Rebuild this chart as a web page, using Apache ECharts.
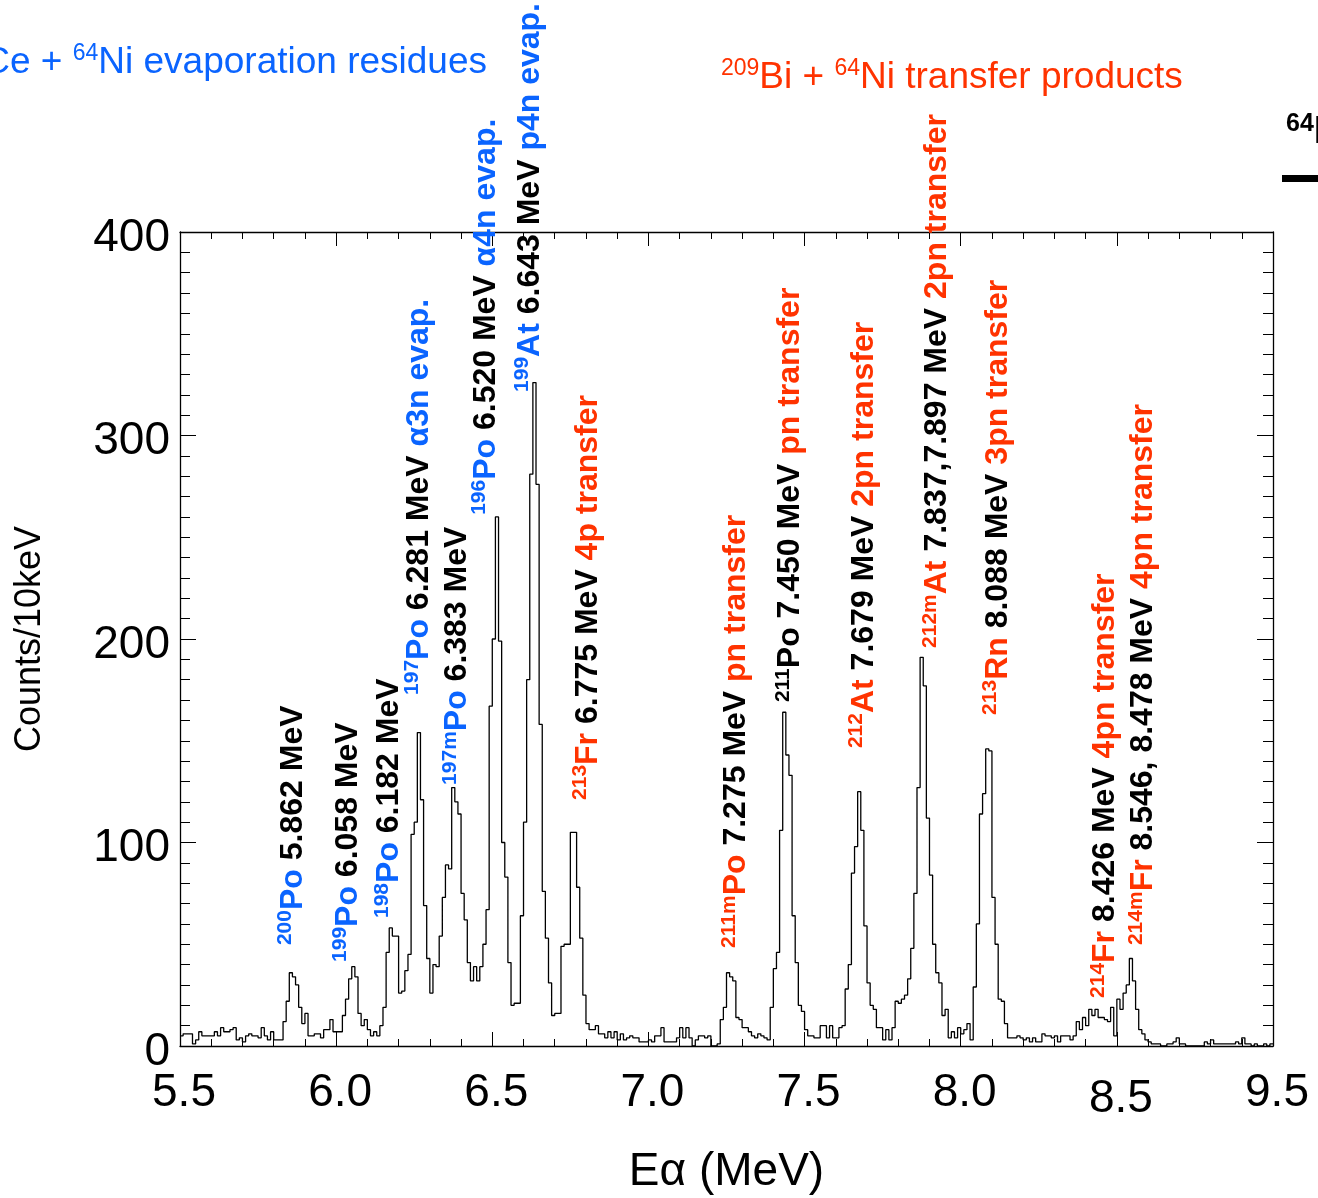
<!DOCTYPE html>
<html>
<head>
<meta charset="utf-8">
<title>Alpha spectrum</title>
<script src="https://cdn.jsdelivr.net/npm/echarts@6/dist/echarts.min.js"></script>
<style>
  html, body { margin: 0; padding: 0; background: #fff; }
  #chart { width: 1318px; height: 1198px; }
</style>
</head>
<body>
<div id="chart"></div>
<script>
// ---- spectrum: 10 keV bins starting at 5.5 MeV ----
const binStart = 5.5;   // MeV, lower edge of first bin
const binWidth = 0.01;  // MeV (10 keV)
const counts = [
  5, 6, 6, 6, 1, 3, 7, 5, 5, 5,
  5, 7, 5, 9, 7, 7, 8, 9, 3, 4,
  2, 5, 6, 5, 5, 4, 9, 5, 3, 7,
  3, 3, 3, 12, 22, 36, 34, 30, 19, 11,
  16, 5, 5, 6, 6, 4, 8, 8, 13, 7,
  7, 7, 15, 23, 33, 39, 34, 16, 10, 13,
  8, 5, 7, 5, 10, 19, 46, 58, 54, 54,
  26, 27, 37, 45, 104, 110, 154, 121, 69, 43,
  26, 40, 39, 54, 73, 89, 87, 127, 120, 114,
  75, 62, 41, 32, 39, 32, 39, 50, 67, 167,
  200, 260, 199, 100, 83, 41, 20, 21, 21, 64,
  110, 180, 281, 326, 276, 158, 76, 53, 31, 15,
  16, 16, 49, 50, 50, 105, 105, 78, 53, 25,
  11, 8, 8, 10, 6, 6, 4, 7, 4, 7,
  3, 6, 3, 4, 5, 4, 4, 2, 2, 2,
  3, 2, 5, 5, 9, 2, 2, 2, 2, 4,
  9, 4, 9, 4, 0, 3, 5, 5, 4, 5,
  0, 0, 1, 13, 19, 36, 34, 32, 14, 13,
  9, 9, 7, 5, 4, 6, 5, 4, 3, 19,
  38, 46, 106, 164, 143, 133, 64, 41, 20, 17,
  8, 5, 5, 4, 4, 10, 10, 4, 10, 4,
  4, 9, 10, 28, 40, 85, 98, 125, 106, 59,
  31, 20, 18, 9, 9, 3, 8, 3, 9, 22,
  21, 23, 25, 33, 48, 75, 127, 191, 177, 112,
  84, 50, 36, 31, 15, 18, 4, 7, 4, 9,
  6, 8, 11, 3, 29, 60, 114, 124, 146, 145,
  73, 50, 23, 22, 11, 4, 4, 4, 5, 4,
  3, 4, 2, 4, 2, 2, 6, 5, 5, 4,
  5, 2, 5, 5, 5, 3, 5, 12, 8, 14,
  10, 18, 15, 18, 14, 14, 13, 12, 19, 5,
  23, 18, 26, 30, 43, 32, 18, 8, 6, 3,
  2, 1, 1, 1, 0, 0, 1, 1, 2, 4,
  1, 1, 0, 0, 0, 0, 0, 0, 2, 1,
  3, 1, 1, 1, 1, 1, 1, 1, 2, 1,
  4, 1, 1, 0, 1, 0, 0, 1, 0, 1
];

// ---- axes ----
const xTickLabels = ['5.5', '6.0', '6.5', '7.0', '7.5', '8.0', '8.5', '9.5'];
const xMin = 5.5, xMax = 9.0, xStep = 0.5;
const yMin = 0, yMax = 400, yStep = 100;

// ---- line identifications ----
const lineMass   = ['200', '199', '198', '197', '197m', '196', '199', '213', '211m', '211', '212', '212m', '213', '214', '214m'];
const lineElem   = ['Po', 'Po', 'Po', 'Po', 'Po', 'Po', 'At', 'Fr', 'Po', 'Po', 'At', 'At', 'Rn', 'Fr', 'Fr'];
const lineEnergy = ['5.862', '6.058', '6.182', '6.281', '6.383', '6.520', '6.643', '6.775', '7.275', '7.450', '7.679', '7.837,7.897', '8.088', '8.426', '8.546, 8.478'];
const lineNote   = ['', '', '', 'α3n evap.', '', 'α4n evap.', 'p4n evap.', '4p transfer', 'pn transfer', 'pn transfer', '2pn transfer', '2pn transfer', '3pn transfer', '4pn transfer', '4pn transfer'];
// isotope group: E = evaporation residue, T = transfer product, K = plain
const lineGroup  = ['E', 'E', 'E', 'E', 'E', 'E', 'E', 'T', 'T', 'K', 'T', 'T', 'T', 'T', 'T'];

// where each vertical label starts, in data units (MeV, counts)
const labelAnchorE = [5.861, 6.037, 6.171, 6.267, 6.388, 6.481, 6.620, 6.806, 7.282, 7.454, 7.690, 7.925, 8.120, 8.464, 8.585];
const labelAnchorC = [49.6, 41.3, 62.9, 172.5, 128.3, 261, 321.4, 120.9, 48.2, 169, 146.4, 195.6, 162.7, 23.6, 49.6];

// ---- styling ----
const FONT = '"Liberation Sans", Arial, Helvetica, sans-serif';
const BLUE = '#0a64ff';
const RED = '#ff3300';
const BLACK = '#000000';

const histData = counts.map((c, i) => [binStart + i * binWidth, c]);
histData.push([binStart + counts.length * binWidth, counts[counts.length - 1]]);

const chart = echarts.init(document.getElementById('chart'), null, { renderer: 'canvas' });

function frameAxis(extra) {
  return Object.assign({
    type: 'value',
    axisLine: { show: true, onZero: false, lineStyle: { color: BLACK, width: 1.3 } },
    splitLine: { show: false },
    minorSplitLine: { show: false }
  }, extra);
}
const xTick = { show: true, inside: true, length: 14, lineStyle: { color: BLACK, width: 1 } };
const xMinor = { show: true, splitNumber: 5, length: 7, lineStyle: { color: BLACK, width: 1 } };
const yTick = { show: true, inside: true, length: 16, lineStyle: { color: BLACK, width: 1 } };
const yMinor = { show: true, splitNumber: 10, length: 10, lineStyle: { color: BLACK, width: 1 } };

const tickLabelStyle = { color: BLACK, fontFamily: FONT, fontSize: 46 };

const option = {
  animation: false,
  backgroundColor: '#ffffff',
  grid: { left: 180, right: 45, top: 232, bottom: 152, containLabel: false, outerBoundsMode: 'none' },
  xAxis: [
    frameAxis({
      position: 'bottom', min: xMin, max: xMax, interval: xStep,
      axisTick: xTick, minorTick: xMinor,
      axisLabel: {
        show: true, margin: 24, showMinLabel: true, showMaxLabel: true,
        formatter: function (v) {
          const k = Math.round((v - xMin) / xStep);
          const t = xTickLabels[k];
          return t === '8.5' ? '{low|' + t + '}' : '{n|' + t + '}';
        },
        rich: {
          n: Object.assign({ padding: [0, 0, 0, 8] }, tickLabelStyle),
          low: Object.assign({ padding: [6, 0, 0, 8] }, tickLabelStyle)
        }
      },
      name: 'Eα (MeV)', nameLocation: 'middle', nameGap: 103,
      nameTextStyle: { color: BLACK, fontFamily: FONT, fontSize: 46 }
    }),
    frameAxis({
      position: 'top', min: xMin, max: xMax, interval: xStep,
      axisTick: xTick, minorTick: xMinor,
      axisLabel: { show: false }
    })
  ],
  yAxis: [
    frameAxis({
      position: 'left', min: yMin, max: yMax, interval: yStep,
      axisTick: yTick, minorTick: yMinor,
      axisLabel: {
        show: true, margin: 10, showMinLabel: true, showMaxLabel: true,
        formatter: function (v) { return '{v|' + v + '}'; },
        rich: { v: Object.assign({ lineHeight: 46, padding: [12, 0, 0, 0] }, tickLabelStyle) }
      },
      name: 'Counts/10keV', nameLocation: 'middle', nameGap: 132, nameRotate: 90,
      nameTextStyle: { color: BLACK, fontFamily: FONT, fontSize: 36 }
    }),
    frameAxis({
      position: 'right', min: yMin, max: yMax, interval: yStep,
      axisTick: yTick, minorTick: yMinor,
      axisLabel: { show: false }
    })
  ],
  series: [{
    name: 'spectrum',
    type: 'line',
    step: 'end',
    xAxisIndex: 0,
    yAxisIndex: 0,
    data: histData,
    symbol: 'none',
    lineStyle: { color: BLACK, width: 1.3 },
    clip: true,
    z: 3
  }]
};

chart.setOption(option);

// ---- rotated line identifications and headings ----
function tok(size, color, extra) {
  return Object.assign({
    fontFamily: FONT, fontSize: size, fontWeight: 'bold',
    fill: color, color: color, lineHeight: 36, verticalAlign: 'middle'
  }, extra || {});
}
const labelRich = {
  supE: tok(21, BLUE, { lineHeight: 22, verticalAlign: 'top' }),
  supT: tok(21, RED, { lineHeight: 22, verticalAlign: 'top' }),
  supK: tok(21, BLACK, { lineHeight: 22, verticalAlign: 'top' }),
  elE: tok(32, BLUE), elT: tok(32, RED), elK: tok(32, BLACK),
  mev: tok(32, BLACK),
  noteE: tok(32, BLUE), noteT: tok(32, RED)
};

function titleTok(size, color, weight, extra) {
  return Object.assign({
    fontFamily: FONT, fontSize: size, fontWeight: weight,
    fill: color, color: color, lineHeight: 42, verticalAlign: 'middle'
  }, extra || {});
}

const graphics = lineMass.map(function (mass, i) {
  const p = chart.convertToPixel({ xAxisIndex: 0, yAxisIndex: 0 }, [labelAnchorE[i], labelAnchorC[i]]);
  const g = lineGroup[i];
  const noteStyle = lineNote[i].indexOf('evap') >= 0 ? 'noteE' : 'noteT';
  let txt = '{sup' + g + '|' + mass + '}{el' + g + '|' + lineElem[i] + '}{mev| ' + lineEnergy[i] + ' MeV}';
  if (lineNote[i]) txt += '{' + noteStyle + '| ' + lineNote[i] + '}';
  return {
    type: 'text', x: p[0], y: p[1], rotation: Math.PI / 2, z: 10, silent: true,
    style: { text: txt, rich: labelRich, align: 'left', verticalAlign: 'middle', fontFamily: FONT }
  };
});

graphics.push({
  type: 'text', x: 487, y: 63, z: 10, silent: true,
  style: {
    text: '{a|Ce + }{s|64}{a|Ni evaporation residues}',
    align: 'right', verticalAlign: 'middle',
    rich: { a: titleTok(37, BLUE, 'normal'), s: titleTok(23, BLUE, 'normal', { lineHeight: 26, verticalAlign: 'top' }) }
  }
});
graphics.push({
  type: 'text', x: 721, y: 78, z: 10, silent: true,
  style: {
    text: '{s|209}{a|Bi + }{s|64}{a|Ni transfer products}',
    align: 'left', verticalAlign: 'middle',
    rich: { a: titleTok(37, RED, 'normal'), s: titleTok(23, RED, 'normal', { lineHeight: 26, verticalAlign: 'top' }) }
  }
});
graphics.push({
  type: 'text', x: 1286, y: 133, z: 10, silent: true,
  style: {
    text: '{s|64}{a|Ni}',
    align: 'left', verticalAlign: 'middle',
    rich: { a: titleTok(38, BLACK, 'bold'), s: titleTok(25, BLACK, 'bold', { lineHeight: 26, verticalAlign: 'top' }) }
  }
});
graphics.push({
  type: 'rect', z: 10, silent: true,
  shape: { x: 1282, y: 175, width: 40, height: 7 },
  style: { fill: BLACK }
});

chart.setOption({ graphic: graphics });
</script>
</body>
</html>
